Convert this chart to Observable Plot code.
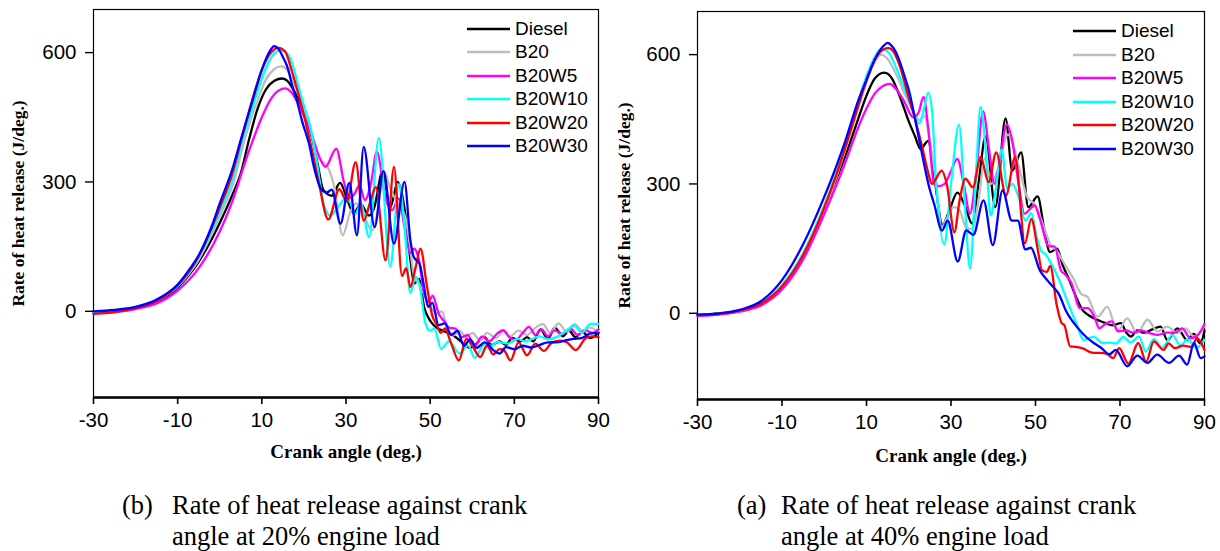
<!DOCTYPE html>
<html><head><meta charset="utf-8">
<script src="https://cdn.jsdelivr.net/npm/d3@7"></script>
<script src="https://cdn.jsdelivr.net/npm/@observablehq/plot@0.6"></script>
<style>
body{margin:0;background:#fff;}
#wrap{position:relative;width:1220px;height:551px;overflow:hidden;background:#fff;}
.panel{position:absolute;top:0;width:610px;height:470px;}
.legend{position:absolute;font-family:"Liberation Sans",Arial,sans-serif;font-size:19px;color:#000;}
.legend .row{position:absolute;left:0;height:20px;white-space:nowrap;}
.legend svg{position:absolute;left:0;top:0;}
.legend span{position:absolute;top:0;line-height:20px;}
.caption{position:absolute;font-family:"Liberation Serif","Times New Roman",serif;font-size:26.5px;line-height:31px;color:#000;white-space:nowrap;}
</style></head><body><div id="wrap"></div>
<script>
// ---------- data ----------
const seriesNames = ["Diesel", "B20", "B20W5", "B20W10", "B20W20", "B20W30"];
const seriesColors = ["#000000", "#bdbdbd", "#ff00ff", "#00ffff", "#ff0000", "#0000ff"];
const angleDomain = [-30, 90];
const angleTicks = [-30, -10, 10, 30, 50, 70, 90];
const rateDomain = [-200, 700];
const rateTicks = [0, 300, 600];
const xTitle = "Crank angle (deg.)";
const yTitle = "Rate of heat release (J/deg.)";
const captionLeft = ["(b)", "Rate of heat release against crank", "angle at 20% engine load"];
const captionRight = ["(a)", "Rate of heat release against crank", "angle at 40% engine load"];

// 20% engine load: [crank angle, rate of heat release]
const diesel20 = [[-30,-2],[-25,2],[-20,8],[-15,22],[-10,55],[-5,115],[0,205],[3,270],[5,320],[7,400],[9,470],[11,515],[13,535],[14.8,540],[16,535],[18,505],[20,462],[22,400],[23.3,340],[24.6,282],[26.6,268],[28.6,298],[30.2,262],[31.8,228],[33.5,248],[35.5,222],[36.7,240],[38.7,325],[40.5,240],[42.3,300],[44,232],[45.3,120],[46.2,64],[47.3,75],[48.6,8],[50,-22],[51.5,-38],[53,-45],[55.4,-55],[57.3,-70],[59.5,-85],[61,-75],[62.9,-60],[64.5,-78],[66.5,-70],[68,-78],[69.5,-62],[71.5,-70],[73,-60],[74.5,-70],[76.2,-42],[78,-64],[79.6,-38],[81.5,-58],[83,-45],[84.5,-60],[86.2,-48],[88,-62],[90,-50]];
const b20_20 = [[-30,-3],[-25,2],[-20,9],[-15,24],[-10,58],[-5,120],[0,220],[3,290],[6.2,408],[9,490],[11,538],[13,562],[14.6,568],[16,560],[18,520],[20,470],[22,410],[23.5,358],[25.9,330],[27.2,290],[29.2,176],[31,230],[32.5,250],[34,228],[36.2,187],[37.5,230],[39,325],[40.5,285],[42,255],[44.1,218],[45.2,150],[46.2,80],[47.5,62],[49,30],[50.5,5],[51.5,-5],[52.8,0],[54,-40],[55.5,-56],[57,-45],[58.5,-60],[60,-50],[61.9,-68],[63.5,-50],[65.6,-62],[67.5,-45],[69,-58],[71,-45],[73,-55],[74.8,-40],[76.8,-30],[78.5,-50],[80.5,-28],[82.5,-48],[84.3,-30],[86.2,-45],[88,-38],[90,-48]];
const b20w5_20 = [[-30,-5],[-25,-2],[-20,5],[-15,18],[-10,48],[-5,100],[0,185],[3,255],[6,345],[8.3,408],[10,450],[12,490],[14,512],[15.6,517],[17,508],[19,475],[21,430],[22.5,390],[23.8,355],[25.1,335],[27.7,377],[29.5,300],[30.8,262],[32,272],[33.2,292],[34.5,258],[36,300],[37.3,370],[39.5,258],[41,235],[42.5,262],[44,190],[45.2,135],[46.2,145],[47.3,120],[48.6,40],[49.6,22],[50.6,36],[52,-5],[53.5,-25],[54.5,-38],[56,-40],[57.5,-60],[59,-55],[60.4,-83],[62.3,-58],[64,-70],[65.9,-52],[67.3,-44],[68.8,-60],[70.3,-67],[72,-50],[73.5,-36],[75,-55],[76.5,-42],[78,-58],[79.5,-45],[81.5,-52],[83.3,-40],[85,-55],[86.8,-44],[88.5,-50],[90,-42]];
const b20w10_20 = [[-30,-3],[-25,1],[-20,9],[-15,25],[-10,58],[-5,125],[0,230],[3,305],[5.7,408],[8,480],[10,540],[12,585],[14.4,605],[16,598],[17.2,575],[18.5,530],[19.6,490],[21.6,424],[23,350],[24.8,245],[26.3,222],[28,240],[29.5,258],[30.8,255],[32.2,225],[33.5,250],[35.5,172],[37.8,402],[40.5,103],[42.6,295],[43.8,210],[45.3,42],[46.5,80],[47.5,60],[48.9,-29],[50,-45],[51,-40],[52.6,-87],[54.5,-70],[57,-98],[59,-79],[60.6,-108],[63,-75],[64.5,-80],[66,-71],[68.4,-75],[70.8,-64],[72.5,-70],[74,-65],[76,-58],[78,-65],[80,-60],[82.5,-44],[84.3,-33],[86,-50],[88.1,-29],[90,-30]];
const b20w20_20 = [[-30,-6],[-25,-2],[-20,7],[-15,24],[-10,60],[-5,128],[0,240],[3,320],[5.4,408],[8,500],[10,560],[12,598],[14,611],[15.5,603],[17.2,555],[18.8,500],[20.4,439],[22,370],[23.5,300],[25.8,213],[28.4,283],[30.2,255],[32.3,346],[34.2,210],[35.8,255],[37.1,288],[39.4,118],[41.4,335],[43.3,82],[44.3,100],[45.3,56],[46.5,100],[47.7,145],[49.2,60],[50.5,-10],[51.5,-30],[52.5,-50],[53.5,-40],[55,-75],[56.8,-114],[58.6,-64],[60,-80],[61.9,-106],[63.5,-80],[65,-100],[66.5,-88],[67.5,-90],[69.1,-114],[71,-72],[73,-102],[75,-75],[77,-92],[79,-72],[81,-68],[82.5,-72],[84.6,-90],[87,-62],[88.5,-58],[90,-60]];
const b20w30_20 = [[-30,0],[-25,3],[-20,10],[-15,27],[-10,62],[-7,100],[-5,130],[-2,195],[0,250],[3,330],[5.3,408],[7.7,486],[10.1,563],[12,605],[12.9,615],[14,608],[15,590],[16.2,563],[17.2,524],[18.4,486],[19.6,440],[21.2,389],[22.5,330],[24.3,280],[25.5,276],[26.6,282],[28.7,203],[30.8,298],[32.6,176],[34.2,381],[36.8,195],[38.9,325],[41.4,157],[43.9,300],[45.3,165],[46.1,126],[47.5,110],[48.5,60],[49.5,10],[50.5,20],[52,-32],[53.5,-28],[55,-55],[56.5,-45],[58,-80],[59.5,-65],[61,-85],[63,-72],[65,-90],[66.5,-98],[68,-83],[70,-88],[72,-80],[74,-84],[76,-78],[78,-72],[80,-72],[82,-68],[84,-64],[86,-62],[88,-52],[90,-50]];

// 40% engine load: [crank angle, rate of heat release]
const diesel40 = [[-30,-4],[-25,-1],[-20,6],[-15,22],[-10,62],[-5,135],[0,240],[3,315],[5,365],[8,450],[10,505],[12,545],[14.2,558],[16,545],[18,500],[20,445],[21.5,410],[22.8,381],[24.6,400],[26,320],[28,205],[29.5,235],[31.5,280],[33.3,250],[35,208],[36.5,300],[38.2,410],[40.5,246],[42.9,452],[44.5,331],[46.6,373],[48.3,246],[50.5,271],[52,200],[53.4,142],[55.1,150],[56.5,110],[58,77],[59.5,40],[61.1,8],[62.5,-4],[63.9,-12],[65.3,-18],[66.6,-23],[68.2,-28],[70.2,-23],[71.5,-45],[72.6,-54],[74,-40],[75.7,-45],[77.5,-38],[79.6,-31],[81.2,-62],[83.6,-35],[85.9,-62],[87.5,-48],[89,-70],[90,-40]];
const b20_40 = [[-30,-5],[-25,-2],[-20,5],[-15,20],[-10,58],[-5,130],[0,235],[3,320],[5,380],[8,475],[10,535],[12,585],[13.5,600],[15,590],[17,555],[19,510],[21,470],[22.5,448],[23.7,458],[25,400],[26.5,300],[27.8,200],[29,220],[30.6,246],[32,240],[33.5,200],[35,195],[36.5,260],[38,360],[39.5,300],[41,330],[43.5,415],[45,380],[46.3,331],[48,270],[50,250],[52,200],[53.5,160],[55,145],[57,112],[59,80],[60.8,45],[62.3,38],[64.7,-8],[67,15],[69.4,-42],[71.7,-12],[74.1,-46],[76.5,-15],[78.9,-42],[81.2,-31],[83.6,-46],[85.5,-35],[87.5,-54],[89.9,-31]];
const b20w5_40 = [[-30,-6],[-25,-3],[-20,4],[-15,18],[-10,55],[-5,125],[0,230],[3,300],[5,350],[8,430],[10,475],[12,510],[14,528],[15.5,532],[17,520],[19,490],[21,455],[22.3,465],[23.5,502],[24.6,430],[26,300],[27.2,295],[28.5,300],[30,330],[31.5,358],[33,300],[34.5,231],[36,330],[37.6,468],[39,380],[40.3,300],[41.5,350],[43.2,438],[44.5,400],[46,300],[47.4,231],[49.8,250],[51,220],[53.2,155],[54.5,155],[56,100],[57,90],[58.5,70],[60.5,12],[62.4,12],[64,-10],[65.1,-35],[66.5,-25],[68,-19],[69.7,-42],[71.5,-40],[73,-45],[75,-40],[77,-46],[79,-50],[81,-45],[83,-45],[84.7,-35],[86.7,-58],[88.5,-50],[90,-25]];
const b20w10_40 = [[-30,-4],[-25,-1],[-20,6],[-15,23],[-10,65],[-5,140],[0,250],[3,330],[5,390],[8,490],[10,550],[12,595],[13.4,612],[15,607],[17,570],[19,520],[21,470],[22.5,440],[23.5,470],[24.6,512],[25.5,470],[26.5,300],[28.4,160],[30,300],[31.9,437],[33.3,250],[34.5,104],[35.7,280],[37,478],[38.2,380],[39.4,227],[40.5,280],[42,380],[43.3,290],[44.5,300],[46,270],[47.6,215],[49,232],[50.2,180],[51.3,146],[52.5,135],[54,110],[55.5,80],[57.4,31],[59.8,-27],[61.4,-62],[63.8,-54],[65.8,-69],[67.5,-68],[69,-70],[70.8,-55],[72.5,-68],[74.5,-54],[76.1,-89],[78,-60],[80,-80],[82.4,-50],[84.3,-75],[86,-60],[88,-80],[90,-62]];
const b20w20_40 = [[-30,-5],[-25,-2],[-20,6],[-15,22],[-10,62],[-5,135],[0,245],[3,325],[5,385],[8,480],[10,540],[12,588],[14,612],[15.2,615],[16.5,605],[18,570],[20,500],[21.5,450],[23.2,385],[24.5,330],[25.5,300],[27.8,331],[29,300],[30.8,188],[32,260],[33.4,312],[35.2,292],[37,362],[38.9,304],[40.7,373],[43,273],[45.2,362],[47.5,162],[49,219],[50.5,150],[51.5,100],[52.7,96],[53.5,110],[55,20],[56.2,-23],[56.8,-27],[58.2,-77],[59.5,-78],[61,-81],[63.8,-92],[65.5,-92],[67,-95],[68.4,-104],[69.8,-81],[72,-117],[74.3,-69],[76.2,-112],[78,-65],[80.3,-85],[81.5,-70],[83,-81],[85,-75],[87,-78],[88.2,-58],[90,-85]];
const b20w30_40 = [[-30,-3],[-25,0],[-20,8],[-15,28],[-10,77],[-5,160],[0,270],[3,345],[5,400],[8,492],[10,542],[12,590],[14,620],[15,627],[16,620],[17,605],[18,580],[19,550],[20.1,515],[21.5,450],[23.3,362],[24.9,290],[26,254],[27.9,192],[29.2,215],[31.6,120],[33.6,192],[35.3,182],[37.7,262],[39.9,158],[42.2,285],[44.4,215],[45.8,215],[47.6,148],[48.9,152],[51,100],[52.5,80],[54.1,62],[55.5,45],[57.3,4],[60.1,-35],[62,-55],[63.8,-69],[65.5,-80],[67.5,-95],[69,-85],[71.7,-123],[74.1,-98],[76.5,-115],[78.8,-96],[81.6,-115],[84,-98],[85.9,-119],[87.5,-69],[89.1,-104],[90,-100]];

const load20 = [diesel20, b20_20, b20w5_20, b20w10_20, b20w20_20, b20w30_20];
const load40 = [diesel40, b20_40, b20w5_40, b20w10_40, b20w20_40, b20w30_40];

// ---------- drawing ----------
const fmt = d => String(d);
const serif = "'Liberation Serif', 'Times New Roman', serif";
function panel(sets, m) {
  const rows = sets.flatMap((s, i) => s.map(([angle, rate]) => ({angle, rate, name: seriesNames[i]})));
  return Plot.plot({
    width: 610, height: 470,
    marginLeft: m.ml, marginRight: m.mr, marginTop: m.mt, marginBottom: m.mb,
    style: {fontFamily: "'Liberation Sans', Arial, sans-serif", fontSize: "20px", color: "#000", background: "transparent", overflow: "visible"},
    x: {domain: angleDomain},
    y: {domain: rateDomain},
    color: {domain: seriesNames, range: seriesColors},
    marks: [
      Plot.frame({stroke: "#000", strokeWidth: 1.2}),
      Plot.line(rows, {x: "angle", y: "rate", z: "name", stroke: "name", strokeWidth: 2.3, curve: "monotone-x"}),
      Plot.ruleY([rateDomain[0]], {stroke: "#000", strokeWidth: 2.4}),
      Plot.axisX({ticks: angleTicks, tickFormat: fmt, tickSize: 7, tickPadding: 8, label: null, strokeWidth: 1.6, fontSize: 20.5}),
      Plot.axisY({ticks: rateTicks, tickFormat: fmt, tickSize: 8, tickPadding: 9, label: null, strokeWidth: 1.4, fontSize: 20.5}),
      Plot.text([xTitle], {text: d => d, frameAnchor: "bottom", dy: m.xdy, fontFamily: serif, fontWeight: "bold", fontSize: 19}),
      Plot.text([yTitle], {text: d => d, frameAnchor: "left", textAnchor: "middle", dx: m.ydx, rotate: -90, fontFamily: serif, fontWeight: "bold", fontSize: 17.5})
    ]
  });
}

function legend(left, top, step) {
  const box = document.createElement("div");
  box.className = "legend";
  box.style.left = left + "px";
  box.style.top = top + "px";
  seriesNames.forEach((name, i) => {
    const row = document.createElement("div");
    row.className = "row";
    row.style.top = (i * step) + "px";
    row.innerHTML = `<svg width="44" height="20"><line x1="0" x2="43" y1="10" y2="10" stroke="${seriesColors[i]}" stroke-width="2.6"/></svg><span style="left:48px">${name}</span>`;
    box.appendChild(row);
  });
  return box;
}

function caption(left, textLeft, top, parts) {
  const a = document.createElement("div");
  a.className = "caption";
  a.style.left = left + "px"; a.style.top = top + "px";
  a.textContent = parts[0];
  const b = document.createElement("div");
  b.className = "caption";
  b.style.left = textLeft + "px"; b.style.top = top + "px";
  b.innerHTML = parts[1] + "<br>" + parts[2];
  return [a, b];
}

const wrap = document.getElementById("wrap");
const p1 = document.createElement("div"); p1.className = "panel"; p1.style.left = "0px";
p1.appendChild(panel(load20, {ml: 93, mr: 12, mt: 9, mb: 73, xdy: 60, ydx: -75}));
const p2 = document.createElement("div"); p2.className = "panel"; p2.style.left = "610px";
p2.appendChild(panel(load40, {ml: 87, mr: 16, mt: 11, mb: 71, xdy: 62, ydx: -73}));
wrap.appendChild(p1); wrap.appendChild(p2);
wrap.appendChild(legend(467, 19, 23.4));
wrap.appendChild(legend(1073, 21, 23.5));
caption(122, 172, 490, captionLeft).forEach(e => wrap.appendChild(e));
caption(737, 781, 490, captionRight).forEach(e => wrap.appendChild(e));
</script></body></html>
